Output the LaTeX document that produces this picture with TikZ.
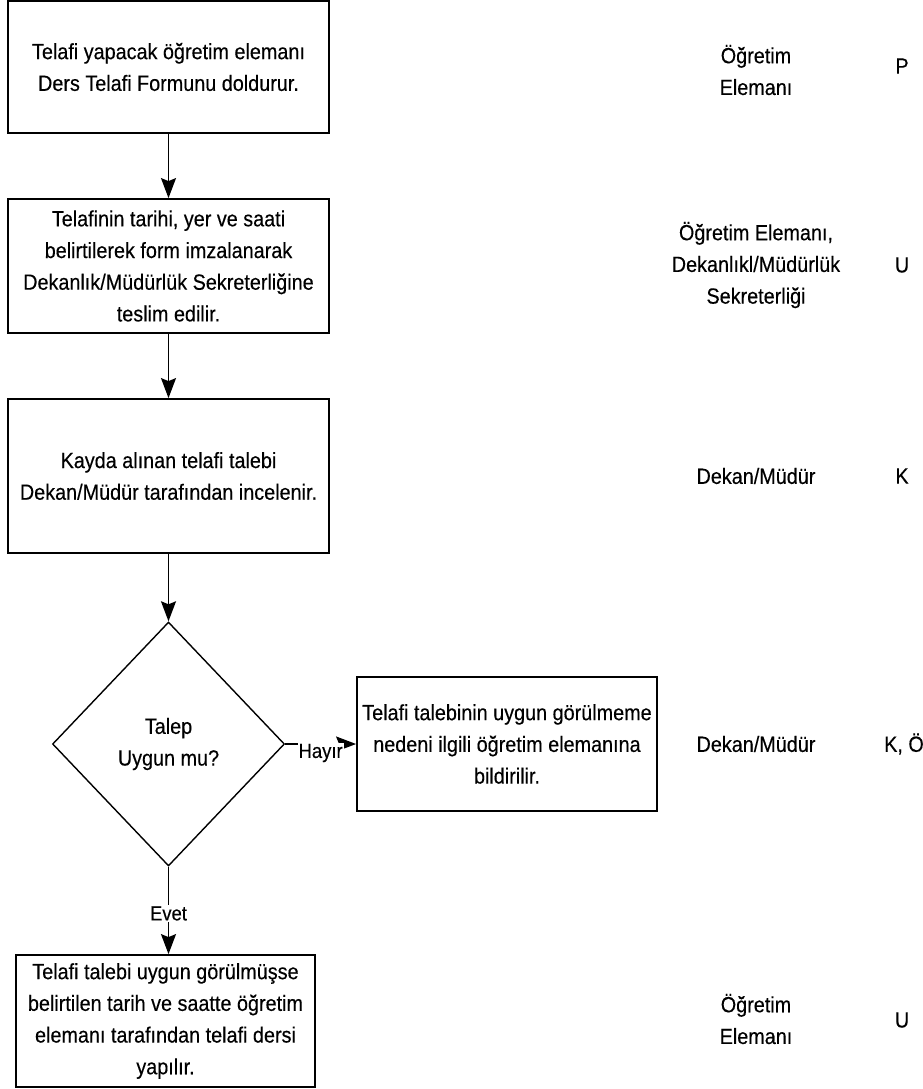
\documentclass[tikz,border=0pt]{standalone}
\usepackage{fontspec}
\setmainfont[FakeStretch=0.9,FakeBold=0.3]{Liberation Sans}
\usepackage{tikz}
\usetikzlibrary{arrows.meta,shapes.geometric}

\begin{document}
\begin{tikzpicture}[x=1pt, y=-1pt,
        kutu/.style={draw, line width=1.8pt, align=center, inner sep=0pt,
            font=\fontsize{22}{31.7}\selectfont},
        karar/.style={draw, line width=1.4pt, diamond, inner sep=0pt, align=center,
            minimum width=232pt, minimum height=244pt,
            font=\fontsize{22}{31.7}\selectfont},
        ok/.style={-{Stealth[length=20pt,width=15pt,inset=3pt]}, line width=1.5pt},
        etiket/.style={fill=white, inner sep=1pt, font=\fontsize{20.5}{24}\selectfont},
        sorumlu/.style={align=center, font=\fontsize{22}{31.7}\selectfont}]
        \useasboundingbox (0, 0) rectangle (923, 1089);

        \node[kutu, minimum width=321pt, minimum height=132pt] (adim1) at (168.5, 67) {Telafi yapacak öğretim elemanı\\Ders Telafi Formunu doldurur.};
        \node[kutu, minimum width=321pt, minimum height=134pt] (adim2) at (168.5, 266) {Telafinin tarihi, yer ve saati\\belirtilerek form imzalanarak\\Dekanlık/Müdürlük Sekreterliğine\\teslim edilir.};
        \node[kutu, minimum width=321pt, minimum height=154pt] (adim3) at (168.5, 476) {Kayda alınan telafi talebi\\Dekan/Müdür tarafından incelenir.};
        \node[karar] (talep) at (168.5, 744) {Talep\\Uygun mu?};
        \node[kutu, minimum width=300pt, minimum height=134pt] (red) at (507, 744) {Telafi talebinin uygun görülmeme\\nedeni ilgili öğretim elemanına\\bildirilir.};
        \node[kutu, minimum width=299pt, minimum height=132pt] (adim5) at (165.5, 1021) {Telafi talebi uygun görülmüşse\\belirtilen tarih ve saatte öğretim\\elemanı tarafından telafi dersi\\yapılır.};

        \node[sorumlu] (sor1) at (756, 70) {Öğretim\\Elemanı};
        \node[sorumlu] (sor2) at (756, 265) {Öğretim Elemanı,\\Dekanlıkl/Müdürlük\\Sekreterliği};
        \node[sorumlu] (sor3) at (756, 476) {Dekan/Müdür};
        \node[sorumlu] (sor4) at (756, 744) {Dekan/Müdür};
        \node[sorumlu] (sor5) at (756, 1019) {Öğretim\\Elemanı};

        \node[sorumlu] (kod1) at (902, 66) {P};
        \node[sorumlu] (kod2) at (902, 265) {U};
        \node[sorumlu] (kod3) at (902, 476) {K};
        \node[sorumlu] (kod4) at (904, 744) {K, Ö};
        \node[sorumlu] (kod5) at (902, 1020) {U};

        \draw[ok] (adim1.south) -- (adim2.north);
        \draw[ok] (adim2.south) -- (adim3.north);
        \draw[ok] (adim3.south) -- (talep.north);

        % karar kutusundan cikan iki yol
        \draw[ok] (talep.east) -- node[etiket, yshift=-9pt] {Hayır} (red.west);
        \draw[ok] (talep.south) -- node[etiket, yshift=-3pt] {Evet} (talep.south |- adim5.north);
\end{tikzpicture}
\end{document}
